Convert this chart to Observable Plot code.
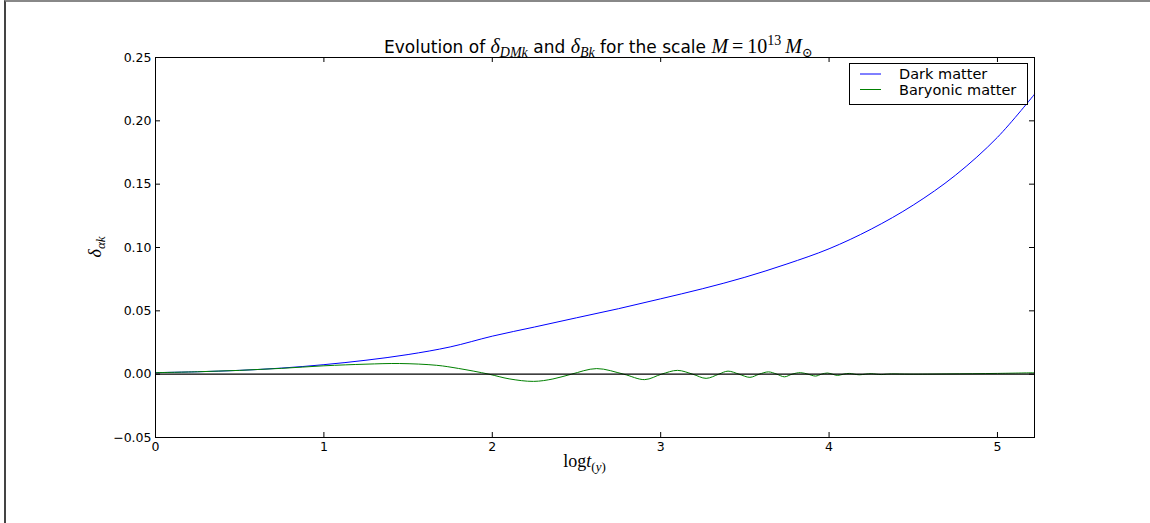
<!DOCTYPE html>
<html><head><meta charset="utf-8">
<script src="https://cdn.jsdelivr.net/npm/d3@7"></script>
<script src="https://cdn.jsdelivr.net/npm/@observablehq/plot@0.6"></script>
<style>
body{margin:0;background:#fff;}
#wrap{position:relative;width:1150px;height:523px;overflow:hidden;}
#edge{position:absolute;left:4px;top:0;width:1146px;height:523px;border-top:2px solid #888;border-left:2px solid #444;pointer-events:none;box-sizing:border-box;}
</style></head><body><div id="wrap"><div id="edge"></div></div>
<script>
// Dark matter density contrast vs log t
const logt_dm = [0, 0.25, 0.5, 0.75, 1.0, 1.25, 1.5, 1.75, 2.0, 2.25, 2.5, 2.75, 3.0, 3.25, 3.5, 3.75, 4.0, 4.25, 4.5, 4.75, 5.0, 5.22];
const delta_dm = [0.0012, 0.0019, 0.0030, 0.0048, 0.0075, 0.0110, 0.0155, 0.0215, 0.0300, 0.0372, 0.0445, 0.0517, 0.0595, 0.0675, 0.0765, 0.0870, 0.0990, 0.1145, 0.1335, 0.1570, 0.1870, 0.2210];
// Baryonic matter density contrast vs log t
const logt_b = [0, 0.25, 0.5, 0.75, 1.0, 1.25, 1.45, 1.67, 1.8, 1.98, 2.1, 2.245, 2.36, 2.47, 2.62, 2.78, 2.905, 3.005, 3.10, 3.19, 3.27, 3.345, 3.40, 3.465, 3.53, 3.585, 3.64, 3.69, 3.735, 3.78, 3.83, 3.875, 3.92, 3.955, 3.99, 4.02, 4.05, 4.085, 4.12, 4.15, 4.18, 4.215, 4.25, 4.28, 4.31, 4.34, 4.37, 4.48, 4.7, 5.0, 5.22];
const delta_b = [0.0012, 0.0019, 0.0030, 0.0046, 0.0066, 0.0079, 0.0084, 0.0070, 0.0045, 0.0, -0.0037, -0.0057, -0.0038, 0.0, 0.0044, 0.0, -0.0043, 0.0, 0.0030, 0.0, -0.0033, 0.0, 0.0024, 0.0, -0.0025, 0.0, 0.0018, 0.0, -0.0021, 0.0, 0.0012, 0.0, -0.0015, 0.0, 0.0009, 0.0, -0.0010, 0.0, 0.0006, 0.0, -0.0005, 0.0, 0.0004, 0.0, -0.0003, 0.0, 0.0002, 0.0, 0.0002, 0.0006, 0.0011];

const xTicks = [0, 1, 2, 3, 4, 5];
const yTicks = [-0.05, 0, 0.05, 0.10, 0.15, 0.20, 0.25];
const seriesNames = ["Dark matter", "Baryonic matter"];
const seriesColors = ["#0000ff", "#008000"];

const dm = logt_dm.map((x, i) => ({x, y: delta_dm[i]}));
const bm = logt_b.map((x, i) => ({x, y: delta_b[i]}));

const W = 1150, H = 523, ML = 155, MR = 116, MT = 57, MB = 86;
const FW = W - ML - MR, FH = H - MT - MB;
const TL = 5;

const fmtY = d => (d < 0 ? "\u2212" : "") + Math.abs(d).toFixed(2);

const chart = Plot.plot({
  width: W, height: H,
  marginLeft: ML, marginRight: MR, marginTop: MT, marginBottom: MB,
  x: {domain: [0, 5.22]},
  y: {domain: [-0.05, 0.25]},
  style: {fontFamily: "'DejaVu Sans', sans-serif", fontSize: "12.5px", color: "#000", background: "transparent", overflow: "visible"},
  marks: [
    Plot.line(dm, {x: "x", y: "y", stroke: seriesColors[0], strokeWidth: 1, curve: "catmull-rom"}),
    Plot.line(bm, {x: "x", y: "y", stroke: seriesColors[1], strokeWidth: 1, curve: "catmull-rom"}),
    Plot.ruleY([0], {stroke: "#000", strokeWidth: 1.2}),
    Plot.tickX(xTicks, {x: d => d, insetTop: FH - TL, stroke: "#000"}),
    Plot.tickX(xTicks, {x: d => d, insetBottom: FH - TL, stroke: "#000"}),
    Plot.tickY(yTicks, {y: d => d, insetRight: FW - TL, stroke: "#000"}),
    Plot.tickY(yTicks, {y: d => d, insetLeft: FW - TL, stroke: "#000"}),
    Plot.frame({stroke: "#000", strokeWidth: 1}),
    Plot.axisX({ticks: xTicks, tickSize: 0, tickPadding: 5, label: null, tickFormat: d => String(d)}),
    Plot.axisY({ticks: yTicks, tickSize: 0, tickPadding: 4, label: null, tickFormat: fmtY})
  ]
});
document.getElementById("wrap").prepend(chart);

const svg = d3.select(chart);
const serif = "'Liberation Serif', 'DejaVu Serif', serif";

// Title
const t = svg.append("text").attr("x", ML + FW / 2 + 4).attr("y", 53).attr("text-anchor", "middle")
  .attr("font-family", "'DejaVu Sans', sans-serif").attr("font-size", 17).attr("fill", "#000");
t.append("tspan").text("Evolution of ");
t.append("tspan").attr("font-family", serif).attr("font-style", "italic").attr("font-size", 20).text("\u03b4");
t.append("tspan").attr("font-family", serif).attr("font-style", "italic").attr("font-size", 14).attr("dy", 4).text("DMk");
t.append("tspan").attr("dy", -4).text(" and ");
t.append("tspan").attr("font-family", serif).attr("font-style", "italic").attr("font-size", 20).text("\u03b4");
t.append("tspan").attr("font-family", serif).attr("font-style", "italic").attr("font-size", 14).attr("dy", 4).text("Bk");
t.append("tspan").attr("dy", -4).text(" for the scale ");
t.append("tspan").attr("font-family", serif).attr("font-style", "italic").attr("font-size", 20).text("M");
t.append("tspan").attr("font-family", serif).attr("font-size", 20).text("\u2009=\u200910");
t.append("tspan").attr("font-family", serif).attr("font-size", 14).attr("dy", -8).text("13");
t.append("tspan").attr("font-family", serif).attr("font-style", "italic").attr("font-size", 20).attr("dy", 8).text("\u2009M");
t.append("tspan").attr("font-family", serif).attr("font-size", 13).attr("dy", 4).text("\u2299");

// Y label
const yl = svg.append("text").attr("transform", `translate(101,${MT + FH / 2}) rotate(-90)`).attr("text-anchor", "middle")
  .attr("font-family", serif).attr("font-style", "italic").attr("font-size", 18).attr("fill", "#000");
yl.append("tspan").text("\u03b4");
yl.append("tspan").attr("font-size", 13).attr("dy", 4).text("\u03b1k");

// X label
const xl = svg.append("text").attr("x", ML + FW / 2 - 10).attr("y", 467).attr("text-anchor", "middle")
  .attr("font-family", serif).attr("font-size", 18).attr("fill", "#000");
xl.append("tspan").text("log");
xl.append("tspan").attr("font-style", "italic").text("t");
xl.append("tspan").attr("font-size", 13).attr("dy", 4).text("(");
xl.append("tspan").attr("font-size", 13).attr("font-style", "italic").text("y");
xl.append("tspan").attr("font-size", 13).text(")");

// Legend
const lg = svg.append("g");
lg.append("rect").attr("x", 849.5).attr("y", 63.5).attr("width", 178).attr("height", 41)
  .attr("fill", "#fff").attr("stroke", "#000").attr("stroke-width", 1);
seriesNames.forEach((name, i) => {
  const cy = 74 + i * 15.5;
  lg.append("line").attr("x1", 860).attr("x2", 881).attr("y1", cy).attr("y2", cy)
    .attr("stroke", seriesColors[i]).attr("stroke-width", 1);
  lg.append("text").attr("x", 899).attr("y", cy + 5).attr("text-anchor", "start")
    .attr("font-family", "'DejaVu Sans', sans-serif")
    .attr("font-size", 14.5).attr("fill", "#000").text(name);
});
</script>
</body></html>
